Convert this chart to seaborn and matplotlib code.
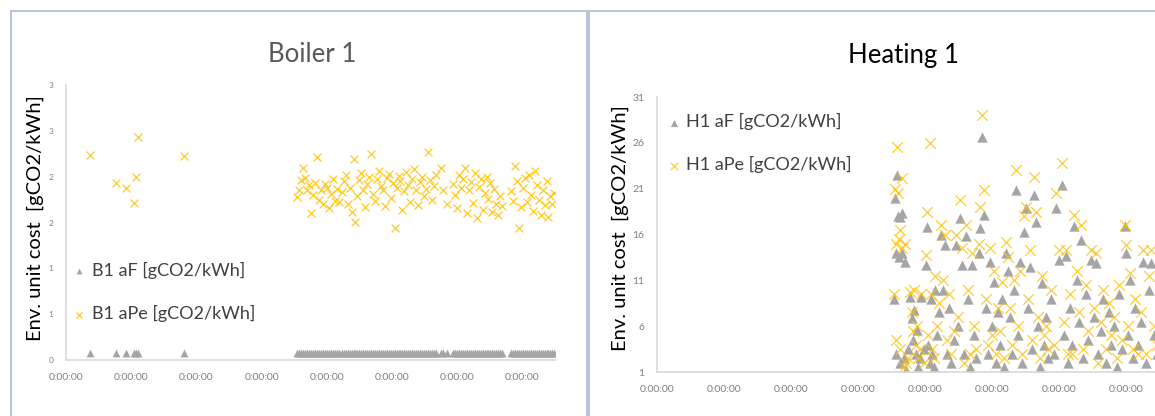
import pandas as pd
import matplotlib
matplotlib.use('agg')
import matplotlib.pyplot as plt
from matplotlib.patches import Rectangle
import seaborn as sns

# Boiler 1 - time axis in days, values in gCO2/kWh
b1_time = [0.37, 0.77, 0.92, 1.05, 1.07, 1.11, 1.81,
           3.55, 3.58, 3.61, 3.64, 3.67, 3.70, 3.73, 3.76, 3.79, 3.82, 3.85, 3.88, 3.91, 3.94, 3.97, 4.00, 4.03, 4.06, 4.09, 4.12, 4.15,
           4.19,
           4.23, 4.26, 4.29, 4.32, 4.35, 4.38, 4.41, 4.44, 4.47, 4.50, 4.53, 4.56, 4.59, 4.62, 4.65, 4.68, 4.71, 4.74, 4.77, 4.80,
           4.83, 4.86, 4.89, 4.92, 4.95, 4.98, 5.01, 5.04, 5.07, 5.10, 5.13, 5.16, 5.19, 5.22, 5.25, 5.28, 5.31, 5.34, 5.37, 5.40,
           5.43, 5.46, 5.49, 5.52, 5.55, 5.58, 5.61, 5.64, 5.67,
           5.75, 5.78, 5.84,
           5.94, 5.97, 6.00, 6.03, 6.06, 6.09, 6.12, 6.15, 6.18, 6.21, 6.24, 6.27, 6.30, 6.33, 6.36, 6.39, 6.42, 6.45, 6.48, 6.51,
           6.54, 6.57, 6.60, 6.63, 6.66, 6.69,
           6.83, 6.86, 6.89, 6.92, 6.95, 6.98, 7.01, 7.04, 7.07, 7.10, 7.13, 7.16, 7.19, 7.22, 7.25, 7.28, 7.31, 7.34, 7.37, 7.40,
           7.43, 7.46, 7.49]
b1_aF = [0.08, 0.08, 0.08, 0.08, 0.08, 0.08, 0.08,
         0.08, 0.08, 0.08, 0.08, 0.08, 0.08, 0.08, 0.08, 0.08, 0.08, 0.08, 0.08, 0.08, 0.08, 0.08, 0.08, 0.08, 0.08, 0.08, 0.08, 0.08,
         0.08,
         0.08, 0.08, 0.08, 0.08, 0.08, 0.08, 0.08, 0.08, 0.08, 0.08, 0.08, 0.08, 0.08, 0.08, 0.08, 0.08, 0.08, 0.08, 0.08, 0.08,
         0.08, 0.08, 0.08, 0.08, 0.08, 0.08, 0.08, 0.08, 0.08, 0.08, 0.08, 0.08, 0.08, 0.08, 0.08, 0.08, 0.08, 0.08, 0.08, 0.08,
         0.08, 0.08, 0.08, 0.08, 0.08, 0.08, 0.08, 0.08, 0.08,
         0.08, 0.08, 0.08,
         0.08, 0.08, 0.08, 0.08, 0.08, 0.08, 0.08, 0.08, 0.08, 0.08, 0.08, 0.08, 0.08, 0.08, 0.08, 0.08, 0.08, 0.08, 0.08, 0.08,
         0.08, 0.08, 0.08, 0.08, 0.08, 0.08,
         0.08, 0.08, 0.08, 0.08, 0.08, 0.08, 0.08, 0.08, 0.08, 0.08, 0.08, 0.08, 0.08, 0.08, 0.08, 0.08, 0.08, 0.08, 0.08, 0.08,
         0.08, 0.08, 0.08]
b1_aPe = [2.24, 1.93, 1.88, 1.71, 2.00, 2.43, 2.23,
          1.78, 1.85, 1.96, 2.09, 1.99, 1.85, 1.91, 1.60, 1.80, 1.93, 2.21, 1.75, 1.85, 1.70, 1.92, 1.88, 1.66, 1.81, 1.98, 1.74, 1.87,
          1.72,
          1.83, 1.95, 2.02, 1.70, 1.88, 1.62, 2.19, 1.51, 1.79, 1.96, 2.04, 1.86, 1.67, 1.92, 2.00, 2.25, 1.81, 1.73, 1.97, 2.06,
          1.90, 1.85, 1.68, 1.99, 2.03, 1.77, 1.93, 1.44, 1.88, 2.01, 1.95, 1.64, 1.84, 2.05, 1.91, 1.72, 1.98, 2.08, 1.86, 1.69,
          1.94, 2.00, 1.79, 1.87, 2.27, 1.96, 1.75, 1.90, 2.02,
          2.10, 1.86, 1.70,
          1.92, 1.80, 1.66, 2.02, 1.88, 1.98, 2.10, 1.60, 1.85, 1.94, 1.71, 2.04, 1.55, 1.89, 1.97, 1.64, 1.82, 2.00, 1.76, 1.93,
          1.62, 1.87, 1.70, 1.58, 1.79, 1.68,
          1.84, 1.74, 2.12, 1.95, 1.44, 1.67, 1.88, 1.99, 1.72, 2.02, 1.80, 1.63, 2.06, 1.91, 1.75, 1.58, 1.86, 1.69, 1.95, 1.56,
          1.79, 1.70, 1.82]

# Heating 1
h1_time = [3.53, 3.55, 3.56, 3.57, 3.58, 3.60, 3.61, 3.62, 3.63, 3.65,
           3.66, 3.68, 3.70, 3.72, 3.74, 3.78, 3.80, 3.82, 3.84, 3.86,
           3.88, 3.90, 3.92, 3.94, 3.98, 4.01, 4.03, 4.05, 4.07, 4.09,
           4.11, 4.13, 4.15, 4.18, 4.21, 4.24, 4.27, 4.30, 4.33, 4.36,
           4.39, 4.43, 4.46, 4.49, 4.52, 4.55, 4.58, 4.61, 4.64, 4.67,
           4.70, 4.73, 4.76, 4.80, 4.82, 4.85, 4.88, 4.91, 4.94, 4.97,
           5.00, 5.03, 5.06, 5.09, 5.12, 5.15, 5.18, 5.21, 5.24, 5.27,
           5.30, 5.33, 5.36, 5.39, 5.42, 5.45, 5.48, 5.51, 5.54, 5.57,
           5.60, 5.63, 5.66, 5.69, 5.72, 5.75, 5.78, 5.81, 5.84, 5.88,
           5.92, 5.96, 6.00, 6.04, 6.07, 6.10, 6.13, 6.17, 6.20, 6.23,
           6.27, 6.30, 6.33, 6.36, 6.40, 6.44, 6.48, 6.52, 6.55, 6.58,
           6.62, 6.66, 6.70, 6.74, 6.78, 6.82, 6.86, 6.90, 6.94, 6.98,
           7.00, 7.03, 7.06, 7.10, 7.14, 7.18, 7.22, 7.26, 7.30, 7.34,
           7.38, 7.42, 7.46]
h1_aF = [9.0, 20.0, 14.0, 3.0, 22.5, 18.0, 13.5, 2.0, 17.9, 14.0,
         18.4, 2.5, 13.0, 1.2, 3.5, 9.2, 6.9, 4.5, 7.8, 3.0,
         5.6, 1.5, 2.5, 9.2, 3.5, 12.7, 16.8, 4.0, 2.0, 9.0,
         3.0, 1.5, 10.0, 5.0, 7.5, 16.0, 10.0, 14.9, 3.0, 8.0,
         2.0, 4.5, 14.9, 6.0, 17.8, 12.7, 3.0, 15.8, 9.0, 1.5,
         12.7, 5.0, 2.5, 14.0, 16.7, 26.6, 18.1, 8.0, 3.0, 13.0,
         6.0, 10.8, 2.0, 7.5, 4.0, 9.0, 1.5, 14.0, 12.0, 7.0,
         3.0, 10.0, 20.9, 5.0, 13.0, 2.0, 16.3, 18.9, 8.0, 12.5,
         3.5, 20.3, 17.4, 6.0, 1.5, 10.7, 4.0, 7.0, 2.5, 9.0,
         3.0, 18.9, 13.2, 21.4, 5.0, 13.7, 2.0, 8.0, 4.0, 16.9,
         11.0, 6.5, 15.4, 2.5, 9.5, 4.5, 13.2, 7.0, 12.9, 3.0,
         5.5, 9.0, 2.0, 7.5, 4.0, 6.0, 1.5, 9.5, 3.5, 16.9,
         14.0, 5.0, 11.0, 2.5, 8.0, 4.0, 6.5, 13.0, 2.0, 10.0,
         12.9, 5.0, 3.0]
h1_aPe = [9.5, 21.0, 15.0, 4.5, 25.5, 20.5, 15.5, 3.5, 16.5, 14.5,
          22.2, 1.5, 15.0, 2.0, 2.5, 9.7, 7.5, 5.5, 10.0, 4.0,
          6.0, 2.5, 3.5, 9.5, 2.0, 13.8, 18.5, 5.0, 26.0, 9.5,
          3.5, 2.5, 11.5, 6.0, 8.5, 17.0, 11.0, 16.0, 4.5, 9.5,
          3.0, 5.5, 16.0, 7.0, 19.8, 14.5, 2.0, 17.0, 10.0, 3.0,
          14.0, 6.0, 3.5, 15.0, 19.0, 29.0, 20.9, 9.0, 4.0, 14.5,
          5.0, 12.0, 3.0, 8.0, 5.5, 10.8, 2.5, 15.2, 13.5, 8.0,
          4.0, 11.0, 23.0, 6.0, 12.0, 3.0, 18.0, 19.0, 9.0, 14.3,
          4.5, 22.3, 18.5, 7.0, 2.5, 11.5, 5.0, 6.0, 3.5, 10.0,
          4.0, 20.5, 14.3, 23.8, 6.5, 14.3, 3.0, 9.5, 3.0, 18.1,
          12.0, 7.5, 17.0, 3.5, 10.5, 5.5, 14.3, 8.0, 14.0, 2.0,
          6.5, 10.0, 3.5, 8.5, 5.0, 7.0, 2.5, 10.5, 4.5, 17.0,
          14.9, 6.0, 11.8, 3.5, 9.0, 3.0, 7.5, 14.3, 3.0, 11.5,
          14.3, 6.0, 4.0]

x_ticks = [0, 1, 2, 3, 4, 5, 6, 7]
x_labels = ['0:00:00'] * 8
b1_yticks = [0, 0.5, 1, 1.5, 2, 2.5, 3]
b1_ylabels = ['0', '1', '1', '2', '2', '3', '3']
h1_yticks = [1, 6, 11, 16, 21, 26, 31]

GREY = '#A5A5A5'
GOLD = '#FFC000'
AXIS = '#D9D9D9'
TICKTXT = '#808080'
FRAME = '#A7BBD3'

sns.set_style('white')
plt.rcParams['font.family'] = ['Lato', 'DejaVu Sans']

fig = plt.figure(figsize=(11.55, 4.16), dpi=100)
W, H = 1155.0, 416.0

# outer chart frames (Excel chart areas)
fig.add_artist(Rectangle((10.5 / W, -0.1), (586.5 - 10.5) / W, 1.1 - 10.5 / H,
                         transform=fig.transFigure, fill=False, edgecolor=FRAME, lw=1.2))
fig.add_artist(Rectangle((588.5 / W, -0.1), 0.6, 1.1 - 10.5 / H,
                         transform=fig.transFigure, fill=False, edgecolor=FRAME, lw=1.2))


def style_axes(ax, ysize):
    sns.despine(ax=ax)
    for side in ['left', 'bottom']:
        ax.spines[side].set_color(AXIS)
        ax.spines[side].set_linewidth(1.2)
    ax.tick_params(axis='both', length=0, colors=TICKTXT)
    ax.tick_params(axis='y', labelsize=ysize, pad=9)
    ax.tick_params(axis='x', labelsize=7.5, pad=9)
    ax.set_xticks(x_ticks)
    ax.set_xticklabels(x_labels)
    ax.set_xlim(0, 7.5)
    ax.set_xlabel('')
    ax.set_ylabel('')


# ---- Boiler 1 ----
ax1 = fig.add_axes([66 / W, 56 / H, 489 / W, 275 / H])
df1 = pd.DataFrame({'t': b1_time, 'aF': b1_aF, 'aPe': b1_aPe})
sns.scatterplot(data=df1, x='t', y='aF', ax=ax1, marker='^', s=32, color=GREY,
                edgecolor=GREY, linewidth=0, label='B1 aF [gCO2/kWh]')
sns.scatterplot(data=df1, x='t', y='aPe', ax=ax1, marker='x', s=32, color=GOLD,
                linewidth=0.9, alpha=0.85, label='B1 aPe [gCO2/kWh]')
ax1.set_ylim(0, 3)
ax1.set_yticks(b1_yticks)
ax1.set_yticklabels(b1_ylabels)
style_axes(ax1, 6)
ax1.legend(loc='upper left', bbox_to_anchor=(-0.018, 0.415), frameon=False, fontsize=13,
           labelspacing=1.45, handlelength=0.6, handletextpad=0.4, markerscale=0.75,
           labelcolor='#404040')

fig.text(312 / W, 1 - 55 / H, 'Boiler 1', ha='center', va='center', fontsize=18.5, color='#595959')
fig.text(35 / W, 1 - 218 / H, 'Env. unit cost  [gCO2/kWh]', rotation=90, ha='center', va='center',
         fontsize=14.5, color='black')

# ---- Heating 1 ----
ax2 = fig.add_axes([657 / W, 44 / H, 502.5 / W, 275 / H])
df2 = pd.DataFrame({'t': h1_time, 'aF': h1_aF, 'aPe': h1_aPe})
sns.scatterplot(data=df2, x='t', y='aF', ax=ax2, marker='^', s=55, color=GREY,
                edgecolor=GREY, linewidth=0, label='H1 aF [gCO2/kWh]')
sns.scatterplot(data=df2, x='t', y='aPe', ax=ax2, marker='x', s=58, color=GOLD,
                linewidth=0.9, alpha=0.8, label='H1 aPe [gCO2/kWh]')
ax2.set_ylim(1, 31)
ax2.set_yticks(h1_yticks)
ax2.set_yticklabels([str(v) for v in h1_yticks])
style_axes(ax2, 7.5)
ax2.legend(loc='upper left', bbox_to_anchor=(-0.01, 1.0), frameon=False, fontsize=13,
           labelspacing=1.45, handlelength=0.6, handletextpad=0.4, markerscale=0.7,
           labelcolor='#404040')

fig.text(903 / W, 1 - 56 / H, 'Heating 1', ha='center', va='center', fontsize=18.5, color='black')
fig.text(620 / W, 1 - 228 / H, 'Env. unit cost  [gCO2/kWh]', rotation=90, ha='center', va='center',
         fontsize=14.5, color='black')

fig.savefig('out.png', dpi=100, facecolor='white')
